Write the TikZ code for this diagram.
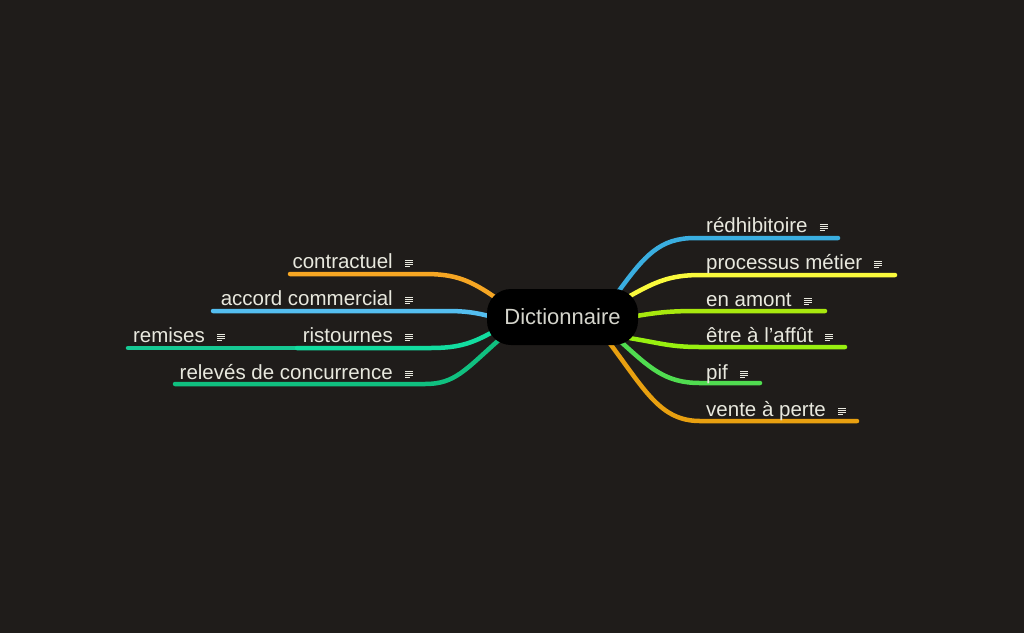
\documentclass[tikz,border=0pt]{standalone}
\usepackage{fontspec}
\setmainfont{Liberation Sans}
\usepackage{tikz}
\usetikzlibrary{positioning}
\usepackage{xcolor}
\definecolor{canvas}{RGB}{31,28,26}
\definecolor{ink}{RGB}{232,232,222}
\definecolor{orangeA}{RGB}{246,166,35}
\definecolor{blueA}{RGB}{84,190,240}
\definecolor{tealA}{RGB}{18,221,160}
\definecolor{tealB}{RGB}{22,201,148}
\definecolor{greenA}{RGB}{16,192,128}
\definecolor{blueB}{RGB}{58,174,224}
\definecolor{yellowA}{RGB}{250,250,60}
\definecolor{limeA}{RGB}{168,232,14}
\definecolor{limeB}{RGB}{152,240,16}
\definecolor{greenB}{RGB}{80,220,80}
\definecolor{orangeB}{RGB}{232,160,16}
\pgfdeclarelayer{ground}
\pgfdeclarelayer{links}
\pgfsetlayers{ground,links,main}

\begin{document}
\begin{tikzpicture}[x=1pt, y=-1pt,
  every node/.style = {text=ink, inner sep=0pt},
  topic/.style = {font=\fontsize{20.5}{24}\selectfont},
  branch/.style = {line width=4.5pt, line cap=round},
  note/.pic = {\draw[ink, line width=1pt]
	(0,0) -- (8,0) (0,2) -- (8,2) (0,4) -- (8,4) (0,6) -- (5,6);}]

\begin{pgfonlayer}{ground}
\fill[canvas] (0,0) rectangle (1024,633);
\end{pgfonlayer}
\useasboundingbox (0,0) rectangle (1024,633);

% central topic
\node[fill=black, rounded corners=24pt, minimum width=151pt, minimum height=56pt,
	 font=\fontsize{22}{26}\selectfont, text=ink!92!black] (dict) at (562.5,317) {Dictionnaire};

% right side
\node[topic, anchor=base west] (redhib) at (706,232) {rédhibitoire};
\node[topic, anchor=base west] (process) at (706,269) {processus métier};
\node[topic, anchor=base west] (amont) at (706,306) {en amont};
\node[topic, anchor=base west] (affut) at (706,342) {être à l’affût};
\node[topic, anchor=base west] (pif) at (706,379) {pif};
\node[topic, anchor=base west] (perte) at (706,416) {vente à perte};

% left side
\node[topic, anchor=base east] (contract) at (393,268) {contractuel};
\node[topic, anchor=base east] (accord) at (393,305) {accord commercial};
\node[topic, anchor=base east] (ristourne) at (393,342) {ristournes};
\node[topic, anchor=base east] (remise) at (205,342) {remises};
\node[topic, anchor=base east] (releve) at (393,379) {relevés de concurrence};

\foreach \n in {redhib,process,amont,affut,pif,perte,contract,accord,ristourne,remise,releve}
  \pic at ([xshift=12pt,yshift=8pt]\n.base east) {note};

% branch ends
\coordinate (redhib-a) at (695,238);  \coordinate (redhib-b) at (838,238);
\coordinate (process-a) at (700,275); \coordinate (process-b) at (895,275);
\coordinate (amont-a) at (700,311);   \coordinate (amont-b) at (825,311);
\coordinate (affut-a) at (700,347);   \coordinate (affut-b) at (845,347);
\coordinate (pif-a) at (700,383);     \coordinate (pif-b) at (760,383);
\coordinate (perte-a) at (700,421);   \coordinate (perte-b) at (857,421);
\coordinate (contract-a) at (425,274); \coordinate (contract-b) at (290,274);
\coordinate (accord-a) at (440,311);   \coordinate (accord-b) at (213,311);
\coordinate (ristourne-a) at (430,348); \coordinate (ristourne-b) at (297,348);
\coordinate (remise-b) at (128,348);
\coordinate (releve-a) at (425,384);   \coordinate (releve-b) at (175,384);

\begin{pgfonlayer}{links}
\draw[branch, blueB] ([shift={(-20,3)}]dict.north east) .. controls (645,255) and (660,238) .. (redhib-a) -- (redhib-b);
\draw[branch, yellowA] ([shift={(-8,7)}]dict.north east) .. controls (655,282) and (670,275) .. (process-a) -- (process-b);
\draw[branch, limeA] ([xshift=-8pt]dict.east) .. controls (660,312) and (670,311) .. (amont-a) -- (amont-b);
\draw[branch, limeB] ([shift={(-8,-7)}]dict.south east) .. controls (660,343) and (670,347) .. (affut-a) -- (affut-b);
\draw[branch, greenB] ([shift={(-18,-4)}]dict.south east) .. controls (650,368) and (665,383) .. (pif-a) -- (pif-b);
\draw[branch, orangeB] ([shift={(-30,-4)}]dict.south east) .. controls (645,390) and (660,421) .. (perte-a) -- (perte-b);
\draw[branch, orangeA] ([shift={(9,9)}]dict.north west) .. controls (470,280) and (455,274) .. (contract-a) -- (contract-b);
\draw[branch, blueA] ([xshift=6pt]dict.west) .. controls (470,311) and (460,311) .. (accord-a) -- (accord-b);
\draw[branch, tealB] (ristourne-b) -- (remise-b);
\draw[branch, tealA] ([shift={(7,-14)}]dict.south west) .. controls (470,345) and (455,348) .. (ristourne-a) -- (ristourne-b);
\draw[branch, greenA] ([shift={(13,-6)}]dict.south west) .. controls (465,370) and (455,384) .. (releve-a) -- (releve-b);
\end{pgfonlayer}
\end{tikzpicture}
\end{document}
